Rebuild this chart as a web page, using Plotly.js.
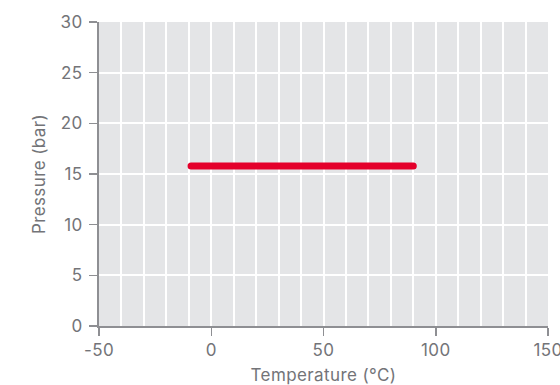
<!DOCTYPE html>
<html>
<head>
<meta charset="utf-8">
<script src="https://cdn.plot.ly/plotly-3.0.1.min.js"></script>
<style>
html,body{margin:0;padding:0;background:#fff;}
#chart{width:560px;height:385px;}
.js-line{stroke-linecap:round;}
.xtick text,.ytick text,.xtitle,.ytitle{letter-spacing:0.4px;}
</style>
</head>
<body>
<div id="chart"></div>
<script>
const temperature = [-9, 90];
const pressure = [15.8, 15.8];
const xTicks = [-50, 0, 50, 100, 150];
const yTicks = [0, 5, 10, 15, 20, 25, 30];

const trace = {
  x: temperature,
  y: pressure,
  type: 'scatter',
  mode: 'lines',
  line: {color: '#e4002b', width: 7},
  hoverinfo: 'skip',
  showlegend: false
};

const tickFont = {family: 'Inter, "Noto Sans", sans-serif', size: 17, color: '#737478'};
const layout = {
  width: 560,
  height: 385,
  margin: {l: 99, r: 12, t: 22, b: 59},
  paper_bgcolor: '#ffffff',
  plot_bgcolor: '#e4e5e7',
  font: tickFont,
  xaxis: {
    range: [-50, 150],
    tickvals: xTicks,
    ticktext: xTicks.map(String),
    ticklabeloverflow: 'allow',
    showgrid: true,
    gridcolor: '#ffffff',
    gridwidth: 2,
    minor: {dtick: 10, tick0: 0, showgrid: true, gridcolor: '#ffffff', gridwidth: 2, ticks: ''},
    zeroline: false,
    showline: true,
    linecolor: '#8e8f93',
    linewidth: 2,
    ticks: 'outside',
    ticklen: 8,
    tickwidth: 1.5,
    tickcolor: '#8e8f93',
    tickfont: tickFont,
    title: {text: 'Temperature (°C)', font: tickFont, standoff: 13}
  },
  yaxis: {
    range: [0, 30],
    tickvals: yTicks,
    ticktext: yTicks.map(String),
    ticklabelstandoff: 3,
    showgrid: true,
    gridcolor: '#ffffff',
    gridwidth: 2,
    zeroline: false,
    showline: true,
    linecolor: '#8e8f93',
    linewidth: 2,
    ticks: 'outside',
    ticklen: 8,
    tickwidth: 1.5,
    tickcolor: '#8e8f93',
    tickfont: tickFont,
    title: {text: 'Pressure (bar)', font: tickFont, standoff: 11}
  }
};

Plotly.newPlot('chart', [trace], layout, {staticPlot: true, displayModeBar: false});
</script>
</body>
</html>
